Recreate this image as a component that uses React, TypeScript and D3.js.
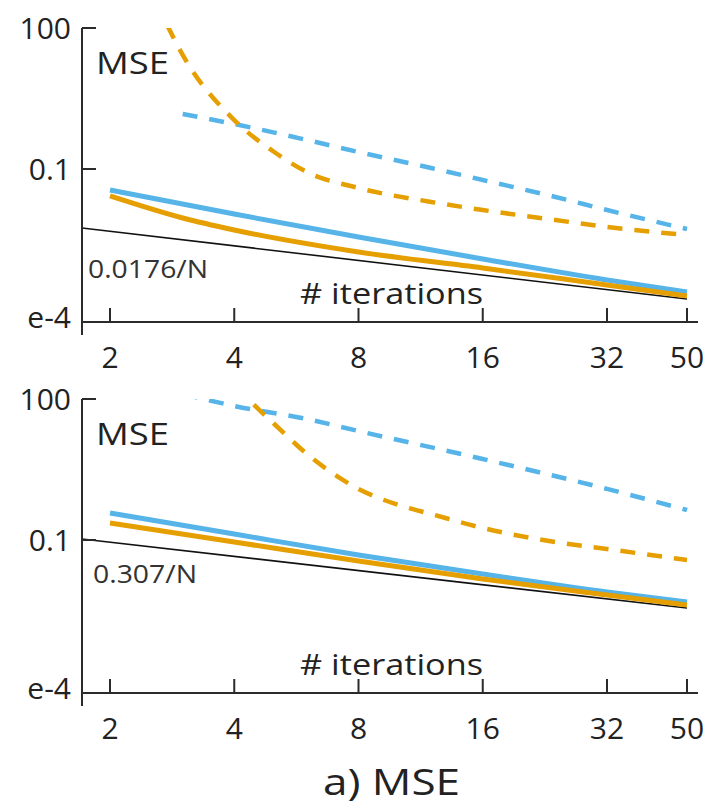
import React from "react";
import * as d3 from "d3";

// ---------- data ----------
const X_TICKS = [2, 4, 8, 16, 32, 50];
const Y_TICKS = [100, 0.1];
const Y_TICK_LABELS = ["100", "0.1"];
const Y_BOTTOM_LABEL = "e-4";

const N_SOLID = [2, 4, 8, 16, 32, 50];
const N_REF = [1.71, 50];

// top panel
const TOP_BLUE_SOLID = [0.0357, 0.011, 0.00357, 0.00122, 0.000435, 0.000241];
const TOP_ORANGE_SOLID_N = [2, 3, 4, 8, 16, 32, 50];
const TOP_ORANGE_SOLID = [0.0267, 0.00906, 0.00504, 0.00171, 0.000783, 0.00034, 0.000199];
const TOP_REF = [0.00556, 0.000171];
const TOP_BLUE_DASH_N = [3, 4, 6, 8, 12, 16, 24, 32, 50];
const TOP_BLUE_DASH = [1.48, 0.906, 0.414, 0.23, 0.105, 0.0583, 0.0254, 0.0134, 0.00528];
const TOP_ORANGE_DASH_N = [2.75, 3, 4, 5, 6, 8, 12, 16, 24, 32, 50];
const TOP_ORANGE_DASH = [116, 26.7, 1.1, 0.23, 0.0863, 0.0394, 0.0199, 0.0134, 0.00822, 0.00583, 0.00394];
const TOP_REF_LABEL = "0.0176/N";

// bottom panel
const BOT_BLUE_SOLID = [0.375, 0.134, 0.048, 0.0189, 0.00783, 0.0048];
const BOT_ORANGE_SOLID = [0.23, 0.0906, 0.0357, 0.0148, 0.00676, 0.00414];
const BOT_REF = [0.105, 0.00357];
const BOT_BLUE_DASH_N = [3, 4, 6, 8, 16, 32, 50];
const BOT_BLUE_DASH = [128, 71.0, 37.5, 20.8, 5.29, 1.22, 0.434];
const BOT_ORANGE_DASH_N = [4, 5, 6, 8, 10, 12, 16, 24, 32, 50];
const BOT_ORANGE_DASH = [189, 29.4, 6.76, 1.22, 0.556, 0.357, 0.18, 0.0906, 0.0644, 0.0375];
const BOT_REF_LABEL = "0.307/N";

const BLUE = "#56B4E9";
const ORANGE = "#E69F00";
const AXIS = "#2b2b2b";
const FONT = "'Open Sans', Lato, sans-serif";

const zip = (ns: number[], vs: number[]) => ns.map((n, i) => ({ n, v: vs[i] }));

type Series = { pts: { n: number; v: number }[]; color: string; dash?: string; width: number; curve?: boolean };

function Panel({
  top,
  id,
  series,
  refLabel,
  refLabelX,
  refLabelY,
  refLabelW,
}: {
  top: number;
  id: string;
  series: Series[];
  refLabel: string;
  refLabelX: number;
  refLabelY: number;
  refLabelW: number;
}) {
  const x = d3.scaleLog().domain([2, 50]).range([110, 687]);
  const y = d3.scaleLog().domain([0.1, 100]).range([top + 141, top]);
  const axisY = top + 294;
  const axisX = 82;
  const line = (s: Series) =>
    d3
      .line<{ n: number; v: number }>()
      .x((d) => x(d.n))
      .y((d) => y(d.v))
      .curve(s.curve ? d3.curveMonotoneX : d3.curveLinear)(s.pts) || "";
  return (
    <g>
      <defs>
        <clipPath id={id}>
          <rect x={axisX} y={top} width={700 - axisX} height={axisY - top} />
        </clipPath>
      </defs>
      <g clipPath={`url(#${id})`}>
        {series.map((s, i) => (
          <path key={i} d={line(s)} fill="none" stroke={s.color} strokeWidth={s.width} strokeDasharray={s.dash} />
        ))}
      </g>
      {/* axes */}
      <line x1={axisX} x2={axisX} y1={top} y2={axisY + 13} stroke={AXIS} strokeWidth={2} />
      <line x1={axisX} x2={698} y1={axisY} y2={axisY} stroke={AXIS} strokeWidth={2} />
      {Y_TICKS.map((t, i) => (
        <g key={t}>
          <line x1={axisX} x2={axisX + 14} y1={y(t)} y2={y(t)} stroke={AXIS} strokeWidth={2} />
          <text x={71} y={y(t) + 11} textAnchor="end" fontSize={30} fill="#222" fontFamily={FONT}>
            {Y_TICK_LABELS[i]}
          </text>
        </g>
      ))}
      <text x={71} y={axisY + 6} textAnchor="end" fontSize={30} fill="#222" fontFamily={FONT}>
        {Y_BOTTOM_LABEL}
      </text>
      {X_TICKS.map((t) => (
        <g key={t}>
          <line x1={x(t)} x2={x(t)} y1={axisY} y2={axisY - 14} stroke={AXIS} strokeWidth={2} />
          <text x={x(t)} y={axisY + 46} textAnchor="middle" fontSize={30} fill="#222" fontFamily={FONT}>
            {t}
          </text>
        </g>
      ))}
      <text x={96} y={top + 46} fontSize={31} fill="#222" fontFamily={FONT} textLength={73} lengthAdjust="spacingAndGlyphs">
        MSE
      </text>
      <text
        x={refLabelX}
        y={refLabelY}
        fontSize={25}
        fill="#333"
        fontFamily={FONT}
        textLength={refLabelW}
        lengthAdjust="spacingAndGlyphs"
      >
        {refLabel}
      </text>
      <text x={300} y={axisY - 18} fontSize={29} fill="#222" fontFamily={FONT} textLength={183} lengthAdjust="spacingAndGlyphs">
        # iterations
      </text>
    </g>
  );
}

export default function App() {
  const topSeries: Series[] = [
    { pts: zip(N_REF, TOP_REF), color: "#111", width: 1.6 },
    { pts: zip(TOP_BLUE_DASH_N, TOP_BLUE_DASH), color: BLUE, width: 4.5, dash: "15,12", curve: true },
    { pts: zip(TOP_ORANGE_DASH_N, TOP_ORANGE_DASH), color: ORANGE, width: 4.5, dash: "15,12", curve: true },
    { pts: zip(N_SOLID, TOP_BLUE_SOLID), color: BLUE, width: 5, curve: true },
    { pts: zip(TOP_ORANGE_SOLID_N, TOP_ORANGE_SOLID), color: ORANGE, width: 5, curve: true },
  ];
  const botSeries: Series[] = [
    { pts: zip(N_REF, BOT_REF), color: "#111", width: 1.6 },
    { pts: zip(BOT_BLUE_DASH_N, BOT_BLUE_DASH), color: BLUE, width: 4.5, dash: "15,12", curve: true },
    { pts: zip(BOT_ORANGE_DASH_N, BOT_ORANGE_DASH), color: ORANGE, width: 4.5, dash: "15,12", curve: true },
    { pts: zip(N_SOLID, BOT_BLUE_SOLID), color: BLUE, width: 5, curve: true },
    { pts: zip(N_SOLID, BOT_ORANGE_SOLID), color: ORANGE, width: 5, curve: true },
  ];
  return (
    <svg width={708} height={805} style={{ position: "absolute", left: 0, top: 0, background: "#fff" }}>
      <rect width={708} height={805} fill="#fff" />
      <Panel
        top={28}
        id="clipTop"
        series={topSeries}
        refLabel={TOP_REF_LABEL}
        refLabelX={88}
        refLabelY={278}
        refLabelW={120}
      />
      <Panel
        top={399}
        id="clipBot"
        series={botSeries}
        refLabel={BOT_REF_LABEL}
        refLabelX={93}
        refLabelY={583}
        refLabelW={104}
      />
      <text x={323} y={795} fontSize={37} fill="#222" fontFamily={FONT} textLength={137} lengthAdjust="spacingAndGlyphs">
        a) MSE
      </text>
    </svg>
  );
}
